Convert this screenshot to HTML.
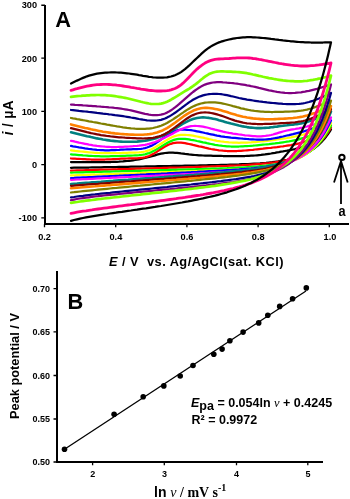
<!DOCTYPE html>
<html><head><meta charset="utf-8">
<style>
html,body{margin:0;padding:0;background:#fff;}
body{width:350px;height:499px;overflow:hidden;}
svg{display:block;filter:blur(0.35px);}
text{font-family:"Liberation Sans",sans-serif;font-weight:bold;fill:#000;}
.tk{font-size:9.2px;}
</style></head><body>
<svg width="350" height="499" viewBox="0 0 350 499">
<g fill="none" stroke-width="2.25" stroke-linejoin="round" stroke-linecap="round">
<path d="M71 162 L73 162 L75 162 L77 162.1 L79 162.1 L81 162.1 L83 162.1 L85 162.1 L87 162.1 L89 162.2 L91 162.2 L93 162.2 L95 162.2 L97 162.2 L99 162.2 L101 162.1 L103 162.1 L105 162.1 L107 162.1 L109 162 L111 162 L113 161.9 L115 161.9 L117 161.8 L119 161.7 L121 161.5 L123 161.4 L125 161.2 L127 161 L129 160.8 L131 160.6 L133 160.3 L135 160 L137 159.6 L139 159.3 L141 158.9 L143 158.4 L145 158 L147 157.5 L149 157 L151 156.4 L153 155.9 L155 155.3 L157 154.7 L159 154.2 L161 153.7 L163 153.3 L165 153 L167 152.8 L169 152.7 L171 152.6 L173 152.7 L175 152.8 L177 152.9 L179 153.1 L181 153.4 L183 153.6 L185 153.9 L187 154.1 L189 154.4 L191 154.6 L193 154.8 L195 155 L197 155.1 L199 155.3 L201 155.4 L203 155.5 L205 155.6 L207 155.6 L209 155.7 L211 155.7 L213 155.8 L215 155.8 L217 155.9 L219 155.9 L221 155.9 L223 156 L225 156 L227 156 L229 156 L231 156.1 L233 156.1 L235 156.1 L237 156.1 L239 156.1 L241 156.1 L243 156 L245 156 L247 155.9 L249 155.8 L251 155.7 L253 155.6 L255 155.5 L257 155.3 L259 155.1 L261 154.9 L263 154.6 L265 154.4 L267 154.1 L269 153.8 L271 153.5 L273 153.1 L275 152.8 L277 152.4 L279 152.1 L281 151.7 L283 151.4 L285 151 L287 150.7 L289 150.3 L291 149.9 L293 149.5 L295 149.1 L297 148.6 L299 148.1 L301 147.5 L303 146.8 L305 146 L307 145.1 L309 144.1 L311 143.1 L313 142 L315 140.7 L317 139.5 L319 138.2 L321 136.8 L323 135.4 L325 133.9 L327 132.5 L329 131 L331 129.5 L330 131.1 L329 132.6 L328 134 L327 135.4 L326 136.7 L325 138 L324 139.2 L323 140.3 L322 141.4 L321 142.4 L320 143.4 L319 144.4 L318 145.3 L317 146.1 L316 146.9 L315 147.7 L314 148.5 L313 149.2 L312 149.9 L311 150.5 L310 151.1 L309 151.7 L308 152.3 L307 152.8 L306 153.3 L305 153.8 L304 154.3 L303 154.8 L302 155.2 L301 155.6 L300 156 L299 156.4 L298 156.7 L297 157.1 L296 157.4 L295 157.7 L294 158 L293 158.3 L292 158.6 L291 158.8 L290 159.1 L287 159.8 L284 160.4 L281 160.9 L278 161.4 L275 161.8 L272 162.2 L269 162.5 L266 162.8 L263 163 L260 163.3 L257 163.5 L254 163.6 L251 163.8 L248 164 L245 164.1 L242 164.2 L239 164.4 L236 164.5 L233 164.6 L230 164.7 L227 164.8 L224 164.8 L221 164.9 L218 165 L215 165.1 L212 165.1 L209 165.2 L206 165.3 L203 165.3 L200 165.4 L197 165.5 L194 165.5 L191 165.6 L188 165.7 L185 165.7 L182 165.8 L179 165.8 L176 165.9 L173 165.9 L170 166 L167 166.1 L164 166.1 L161 166.2 L158 166.2 L155 166.3 L152 166.3 L149 166.4 L146 166.4 L143 166.5 L140 166.6 L137 166.6 L134 166.7 L131 166.7 L128 166.8 L125 166.8 L122 166.9 L119 166.9 L116 167 L113 167 L110 167.1 L107 167.2 L104 167.2 L101 167.3 L98 167.3 L95 167.4 L92 167.4 L89 167.5 L86 167.5 L83 167.6 L80 167.6 L77 167.7 L74 167.7 L71 167.8" stroke="#000000"/>
<path d="M71 158.5 L73 158.6 L75 158.7 L77 158.8 L79 158.9 L81 159 L83 159.1 L85 159.2 L87 159.3 L89 159.4 L91 159.5 L93 159.5 L95 159.5 L97 159.6 L99 159.6 L101 159.6 L103 159.5 L105 159.5 L107 159.4 L109 159.4 L111 159.3 L113 159.2 L115 159.1 L117 159 L119 158.8 L121 158.7 L123 158.6 L125 158.6 L127 158.5 L129 158.4 L131 158.4 L133 158.4 L135 158.3 L137 158.3 L139 158.1 L141 157.9 L143 157.7 L145 157.3 L147 156.7 L149 156 L151 155.1 L153 154.1 L155 152.9 L157 151.7 L159 150.3 L161 149 L163 147.7 L165 146.5 L167 145.4 L169 144.5 L171 143.8 L173 143.2 L175 142.9 L177 142.7 L179 142.6 L181 142.7 L183 142.9 L185 143.2 L187 143.6 L189 144 L191 144.4 L193 144.9 L195 145.3 L197 145.8 L199 146.3 L201 146.7 L203 147.2 L205 147.7 L207 148.1 L209 148.6 L211 149 L213 149.3 L215 149.7 L217 150 L219 150.3 L221 150.5 L223 150.7 L225 150.8 L227 151 L229 151 L231 151.1 L233 151.1 L235 151 L237 151 L239 150.9 L241 150.8 L243 150.6 L245 150.5 L247 150.3 L249 150.1 L251 150 L253 149.8 L255 149.5 L257 149.3 L259 149.1 L261 148.9 L263 148.7 L265 148.4 L267 148.2 L269 148 L271 147.8 L273 147.5 L275 147.3 L277 147.1 L279 146.8 L281 146.5 L283 146.3 L285 146 L287 145.7 L289 145.4 L291 145.1 L293 144.7 L295 144.3 L297 143.9 L299 143.4 L301 142.8 L303 142.2 L305 141.5 L307 140.7 L309 139.9 L311 139 L313 138 L315 137 L317 135.9 L319 134.8 L321 133.6 L323 132.4 L325 131.2 L327 130 L329 128.7 L331 127.5 L330 129.2 L329 130.8 L328 132.3 L327 133.8 L326 135.2 L325 136.5 L324 137.8 L323 139 L322 140.2 L321 141.3 L320 142.3 L319 143.4 L318 144.3 L317 145.2 L316 146.1 L315 147 L314 147.8 L313 148.5 L312 149.3 L311 150 L310 150.6 L309 151.3 L308 151.9 L307 152.5 L306 153 L305 153.6 L304 154.1 L303 154.5 L302 155 L301 155.5 L300 155.9 L299 156.3 L298 156.7 L297 157.1 L296 157.4 L295 157.8 L294 158.1 L293 158.4 L292 158.7 L291 159 L290 159.3 L287 160 L284 160.7 L281 161.3 L278 161.8 L275 162.3 L272 162.7 L269 163.1 L266 163.4 L263 163.7 L260 164 L257 164.2 L254 164.4 L251 164.6 L248 164.8 L245 165 L242 165.2 L239 165.3 L236 165.5 L233 165.6 L230 165.7 L227 165.9 L224 166 L221 166.1 L218 166.2 L215 166.3 L212 166.4 L209 166.5 L206 166.6 L203 166.7 L200 166.8 L197 166.9 L194 167 L191 167.1 L188 167.2 L185 167.3 L182 167.4 L179 167.5 L176 167.6 L173 167.7 L170 167.7 L167 167.8 L164 167.9 L161 168 L158 168.1 L155 168.2 L152 168.3 L149 168.4 L146 168.4 L143 168.5 L140 168.6 L137 168.7 L134 168.8 L131 168.9 L128 169 L125 169 L122 169.1 L119 169.2 L116 169.3 L113 169.4 L110 169.5 L107 169.6 L104 169.7 L101 169.7 L98 169.8 L95 169.9 L92 170 L89 170.1 L86 170.2 L83 170.3 L80 170.3 L77 170.4 L74 170.5 L71 170.6" stroke="#ff0000"/>
<path d="M71 154.4 L73 154.6 L75 154.7 L77 154.9 L79 155.1 L81 155.2 L83 155.4 L85 155.5 L87 155.6 L89 155.8 L91 155.9 L93 156 L95 156.1 L97 156.1 L99 156.2 L101 156.3 L103 156.3 L105 156.3 L107 156.3 L109 156.3 L111 156.2 L113 156.2 L115 156.1 L117 156.1 L119 156 L121 155.9 L123 155.8 L125 155.8 L127 155.7 L129 155.6 L131 155.6 L133 155.5 L135 155.4 L137 155.3 L139 155.2 L141 155 L143 154.7 L145 154.3 L147 153.7 L149 153.1 L151 152.3 L153 151.3 L155 150.3 L157 149.1 L159 147.9 L161 146.7 L163 145.4 L165 144.2 L167 143.1 L169 142 L171 141.1 L173 140.2 L175 139.6 L177 139.2 L179 138.9 L181 138.8 L183 138.8 L185 138.9 L187 139.1 L189 139.4 L191 139.8 L193 140.1 L195 140.5 L197 141 L199 141.4 L201 141.8 L203 142.3 L205 142.7 L207 143.2 L209 143.6 L211 144 L213 144.4 L215 144.8 L217 145.1 L219 145.5 L221 145.7 L223 146 L225 146.1 L227 146.3 L229 146.4 L231 146.5 L233 146.5 L235 146.5 L237 146.5 L239 146.5 L241 146.4 L243 146.3 L245 146.2 L247 146.1 L249 146 L251 145.8 L253 145.7 L255 145.5 L257 145.3 L259 145.1 L261 144.9 L263 144.7 L265 144.5 L267 144.3 L269 144.1 L271 143.8 L273 143.6 L275 143.4 L277 143.1 L279 142.9 L281 142.6 L283 142.3 L285 142 L287 141.7 L289 141.4 L291 141 L293 140.6 L295 140.2 L297 139.8 L299 139.3 L301 138.7 L303 138.1 L305 137.5 L307 136.8 L309 136.1 L311 135.2 L313 134.4 L315 133.5 L317 132.6 L319 131.6 L321 130.7 L323 129.7 L325 128.6 L327 127.6 L329 126.5 L331 125.5 L330 127.4 L329 129.2 L328 130.9 L327 132.6 L326 134.1 L325 135.6 L324 137.1 L323 138.4 L322 139.7 L321 141 L320 142.2 L319 143.3 L318 144.4 L317 145.4 L316 146.4 L315 147.4 L314 148.3 L313 149.1 L312 149.9 L311 150.7 L310 151.5 L309 152.2 L308 152.9 L307 153.5 L306 154.1 L305 154.7 L304 155.3 L303 155.8 L302 156.4 L301 156.9 L300 157.3 L299 157.8 L298 158.2 L297 158.6 L296 159 L295 159.4 L294 159.8 L293 160.1 L292 160.4 L291 160.8 L290 161.1 L287 161.9 L284 162.6 L281 163.3 L278 163.9 L275 164.4 L272 164.8 L269 165.2 L266 165.6 L263 165.9 L260 166.2 L257 166.5 L254 166.7 L251 166.9 L248 167.1 L245 167.3 L242 167.5 L239 167.6 L236 167.8 L233 167.9 L230 168 L227 168.2 L224 168.3 L221 168.4 L218 168.5 L215 168.6 L212 168.7 L209 168.8 L206 168.9 L203 169 L200 169.1 L197 169.2 L194 169.3 L191 169.4 L188 169.4 L185 169.5 L182 169.6 L179 169.7 L176 169.8 L173 169.9 L170 169.9 L167 170 L164 170.1 L161 170.2 L158 170.3 L155 170.4 L152 170.4 L149 170.5 L146 170.6 L143 170.7 L140 170.8 L137 170.8 L134 170.9 L131 171 L128 171.1 L125 171.2 L122 171.2 L119 171.3 L116 171.4 L113 171.5 L110 171.6 L107 171.6 L104 171.7 L101 171.8 L98 171.9 L95 172 L92 172 L89 172.1 L86 172.2 L83 172.3 L80 172.4 L77 172.4 L74 172.5 L71 172.6" stroke="#00ff00"/>
<path d="M71 150.4 L73 150.6 L75 150.9 L77 151.1 L79 151.3 L81 151.5 L83 151.7 L85 151.9 L87 152.1 L89 152.3 L91 152.5 L93 152.6 L95 152.8 L97 152.9 L99 153 L101 153.1 L103 153.2 L105 153.2 L107 153.2 L109 153.2 L111 153.2 L113 153.2 L115 153.1 L117 153.1 L119 153 L121 153 L123 152.9 L125 152.8 L127 152.8 L129 152.7 L131 152.7 L133 152.6 L135 152.6 L137 152.5 L139 152.4 L141 152.2 L143 151.9 L145 151.5 L147 150.9 L149 150.3 L151 149.5 L153 148.5 L155 147.4 L157 146.2 L159 145 L161 143.7 L163 142.4 L165 141.1 L167 139.9 L169 138.8 L171 137.7 L173 136.8 L175 136.1 L177 135.5 L179 135.2 L181 134.9 L183 134.8 L185 134.9 L187 135 L189 135.2 L191 135.4 L193 135.7 L195 136.1 L197 136.5 L199 136.9 L201 137.3 L203 137.7 L205 138.2 L207 138.6 L209 139.1 L211 139.5 L213 140 L215 140.4 L217 140.8 L219 141.1 L221 141.5 L223 141.7 L225 142 L227 142.2 L229 142.4 L231 142.5 L233 142.6 L235 142.7 L237 142.7 L239 142.8 L241 142.7 L243 142.7 L245 142.7 L247 142.6 L249 142.5 L251 142.4 L253 142.2 L255 142.1 L257 141.9 L259 141.7 L261 141.5 L263 141.3 L265 141.1 L267 140.8 L269 140.6 L271 140.3 L273 140.1 L275 139.8 L277 139.5 L279 139.2 L281 138.9 L283 138.6 L285 138.3 L287 138 L289 137.6 L291 137.3 L293 136.9 L295 136.5 L297 136.1 L299 135.6 L301 135.1 L303 134.6 L305 134 L307 133.4 L309 132.7 L311 131.9 L313 131.2 L315 130.3 L317 129.5 L319 128.6 L321 127.7 L323 126.8 L325 125.9 L327 124.9 L329 124 L331 123 L330 125.1 L329 127 L328 128.9 L327 130.7 L326 132.4 L325 134 L324 135.6 L323 137.1 L322 138.5 L321 139.8 L320 141.1 L319 142.4 L318 143.5 L317 144.7 L316 145.7 L315 146.8 L314 147.8 L313 148.7 L312 149.6 L311 150.4 L310 151.2 L309 152 L308 152.8 L307 153.5 L306 154.2 L305 154.8 L304 155.4 L303 156 L302 156.6 L301 157.1 L300 157.7 L299 158.2 L298 158.6 L297 159.1 L296 159.5 L295 159.9 L294 160.3 L293 160.7 L292 161.1 L291 161.4 L290 161.8 L287 162.7 L284 163.5 L281 164.2 L278 164.9 L275 165.4 L272 165.9 L269 166.4 L266 166.8 L263 167.2 L260 167.5 L257 167.8 L254 168.1 L251 168.3 L248 168.5 L245 168.8 L242 169 L239 169.1 L236 169.3 L233 169.5 L230 169.6 L227 169.8 L224 169.9 L221 170.1 L218 170.2 L215 170.3 L212 170.5 L209 170.6 L206 170.7 L203 170.8 L200 170.9 L197 171 L194 171.2 L191 171.3 L188 171.4 L185 171.5 L182 171.6 L179 171.7 L176 171.8 L173 171.9 L170 172 L167 172.1 L164 172.2 L161 172.3 L158 172.4 L155 172.5 L152 172.6 L149 172.7 L146 172.8 L143 172.9 L140 173 L137 173.2 L134 173.3 L131 173.4 L128 173.5 L125 173.6 L122 173.7 L119 173.8 L116 173.9 L113 174 L110 174.1 L107 174.2 L104 174.3 L101 174.4 L98 174.5 L95 174.6 L92 174.7 L89 174.8 L86 174.9 L83 175 L80 175.1 L77 175.2 L74 175.3 L71 175.4" stroke="#ffff00"/>
<path d="M71 145.9 L73 146.3 L75 146.6 L77 147 L79 147.4 L81 147.7 L83 148 L85 148.4 L87 148.7 L89 149 L91 149.2 L93 149.5 L95 149.7 L97 149.9 L99 150 L101 150.2 L103 150.2 L105 150.3 L107 150.3 L109 150.3 L111 150.2 L113 150.2 L115 150.1 L117 150 L119 149.9 L121 149.7 L123 149.6 L125 149.5 L127 149.4 L129 149.3 L131 149.3 L133 149.2 L135 149.2 L137 149.1 L139 149 L141 148.8 L143 148.5 L145 148.1 L147 147.5 L149 146.8 L151 145.9 L153 144.9 L155 143.7 L157 142.4 L159 141 L161 139.5 L163 138.1 L165 136.7 L167 135.3 L169 134 L171 132.8 L173 131.8 L175 131 L177 130.4 L179 130 L181 129.7 L183 129.6 L185 129.6 L187 129.8 L189 130 L191 130.2 L193 130.5 L195 130.9 L197 131.3 L199 131.7 L201 132.1 L203 132.5 L205 133 L207 133.4 L209 133.9 L211 134.3 L213 134.7 L215 135.2 L217 135.6 L219 135.9 L221 136.3 L223 136.6 L225 136.9 L227 137.1 L229 137.3 L231 137.6 L233 137.8 L235 137.9 L237 138.1 L239 138.3 L241 138.5 L243 138.7 L245 138.8 L247 139 L249 139.2 L251 139.3 L253 139.4 L255 139.5 L257 139.6 L259 139.6 L261 139.6 L263 139.6 L265 139.5 L267 139.3 L269 139.1 L271 138.9 L273 138.5 L275 138.2 L277 137.8 L279 137.4 L281 136.9 L283 136.5 L285 136 L287 135.5 L289 135.1 L291 134.6 L293 134.2 L295 133.7 L297 133.2 L299 132.7 L301 132.2 L303 131.6 L305 131 L307 130.4 L309 129.7 L311 128.9 L313 128.2 L315 127.4 L317 126.6 L319 125.8 L321 124.9 L323 124.1 L325 123.2 L327 122.3 L329 121.4 L331 120.5 L330 122.6 L329 124.7 L328 126.6 L327 128.5 L326 130.3 L325 132 L324 133.6 L323 135.1 L322 136.6 L321 138 L320 139.4 L319 140.7 L318 141.9 L317 143.1 L316 144.2 L315 145.3 L314 146.3 L313 147.3 L312 148.2 L311 149.1 L310 150 L309 150.8 L308 151.6 L307 152.3 L306 153 L305 153.7 L304 154.4 L303 155 L302 155.6 L301 156.2 L300 156.7 L299 157.2 L298 157.8 L297 158.2 L296 158.7 L295 159.1 L294 159.6 L293 160 L292 160.4 L291 160.7 L290 161.1 L287 162.1 L284 163 L281 163.8 L278 164.5 L275 165.1 L272 165.6 L269 166.1 L266 166.6 L263 167 L260 167.4 L257 167.7 L254 168.1 L251 168.4 L248 168.6 L245 168.9 L242 169.1 L239 169.4 L236 169.6 L233 169.8 L230 170 L227 170.2 L224 170.4 L221 170.6 L218 170.7 L215 170.9 L212 171.1 L209 171.2 L206 171.4 L203 171.6 L200 171.7 L197 171.9 L194 172 L191 172.2 L188 172.3 L185 172.5 L182 172.6 L179 172.8 L176 172.9 L173 173.1 L170 173.2 L167 173.4 L164 173.5 L161 173.7 L158 173.8 L155 174 L152 174.1 L149 174.2 L146 174.4 L143 174.5 L140 174.7 L137 174.8 L134 175 L131 175.1 L128 175.3 L125 175.4 L122 175.5 L119 175.7 L116 175.8 L113 176 L110 176.1 L107 176.3 L104 176.4 L101 176.6 L98 176.7 L95 176.8 L92 177 L89 177.1 L86 177.3 L83 177.4 L80 177.6 L77 177.7 L74 177.9 L71 178" stroke="#0000ff"/>
<path d="M71 140.8 L73 141.2 L75 141.7 L77 142.1 L79 142.6 L81 143 L83 143.4 L85 143.8 L87 144.2 L89 144.6 L91 144.9 L93 145.3 L95 145.6 L97 145.9 L99 146.1 L101 146.3 L103 146.5 L105 146.7 L107 146.8 L109 146.9 L111 147 L113 147 L115 147 L117 147 L119 146.9 L121 146.9 L123 146.8 L125 146.7 L127 146.6 L129 146.5 L131 146.3 L133 146.2 L135 146 L137 145.9 L139 145.7 L141 145.4 L143 145.1 L145 144.8 L147 144.4 L149 143.9 L151 143.3 L153 142.7 L155 142 L157 141.2 L159 140.4 L161 139.5 L163 138.5 L165 137.6 L167 136.6 L169 135.5 L171 134.5 L173 133.4 L175 132.3 L177 131.3 L179 130.3 L181 129.4 L183 128.5 L185 127.8 L187 127.1 L189 126.6 L191 126.2 L193 126 L195 125.9 L197 126 L199 126.1 L201 126.3 L203 126.7 L205 127.1 L207 127.5 L209 128 L211 128.6 L213 129.1 L215 129.7 L217 130.2 L219 130.7 L221 131.2 L223 131.7 L225 132.1 L227 132.5 L229 132.9 L231 133.2 L233 133.6 L235 133.9 L237 134.2 L239 134.5 L241 134.7 L243 135 L245 135.3 L247 135.5 L249 135.7 L251 135.9 L253 136.1 L255 136.2 L257 136.3 L259 136.3 L261 136.3 L263 136.1 L265 136 L267 135.7 L269 135.4 L271 135 L273 134.5 L275 133.9 L277 133.3 L279 132.7 L281 132.1 L283 131.5 L285 131 L287 130.5 L289 130.1 L291 129.7 L293 129.3 L295 129 L297 128.6 L299 128.3 L301 127.9 L303 127.5 L305 127 L307 126.5 L309 125.9 L311 125.3 L313 124.7 L315 124 L317 123.2 L319 122.5 L321 121.7 L323 120.9 L325 120 L327 119.2 L329 118.4 L331 117.5 L330 119.9 L329 122.1 L328 124.2 L327 126.3 L326 128.2 L325 130.1 L324 131.9 L323 133.6 L322 135.2 L321 136.8 L320 138.2 L319 139.7 L318 141 L317 142.3 L316 143.5 L315 144.7 L314 145.8 L313 146.9 L312 147.9 L311 148.9 L310 149.9 L309 150.8 L308 151.6 L307 152.4 L306 153.2 L305 154 L304 154.7 L303 155.4 L302 156 L301 156.7 L300 157.3 L299 157.8 L298 158.4 L297 158.9 L296 159.4 L295 159.9 L294 160.4 L293 160.8 L292 161.2 L291 161.6 L290 162 L287 163.1 L284 164.1 L281 164.9 L278 165.7 L275 166.4 L272 167 L269 167.5 L266 168 L263 168.4 L260 168.9 L257 169.2 L254 169.6 L251 169.9 L248 170.2 L245 170.4 L242 170.7 L239 170.9 L236 171.2 L233 171.4 L230 171.6 L227 171.8 L224 172 L221 172.2 L218 172.4 L215 172.5 L212 172.7 L209 172.9 L206 173.1 L203 173.2 L200 173.4 L197 173.5 L194 173.7 L191 173.9 L188 174 L185 174.2 L182 174.3 L179 174.5 L176 174.6 L173 174.8 L170 174.9 L167 175.1 L164 175.2 L161 175.4 L158 175.5 L155 175.7 L152 175.8 L149 176 L146 176.1 L143 176.3 L140 176.4 L137 176.6 L134 176.7 L131 176.9 L128 177 L125 177.2 L122 177.3 L119 177.4 L116 177.6 L113 177.7 L110 177.9 L107 178 L104 178.2 L101 178.3 L98 178.5 L95 178.6 L92 178.8 L89 178.9 L86 179.1 L83 179.2 L80 179.4 L77 179.5 L74 179.7 L71 179.8" stroke="#ff00ff"/>
<path d="M71 132.2 L73 132.7 L75 133.2 L77 133.7 L79 134.2 L81 134.7 L83 135.2 L85 135.7 L87 136.2 L89 136.6 L91 137.1 L93 137.5 L95 137.9 L97 138.4 L99 138.7 L101 139.1 L103 139.5 L105 139.8 L107 140.1 L109 140.4 L111 140.7 L113 140.9 L115 141.1 L117 141.3 L119 141.5 L121 141.6 L123 141.7 L125 141.8 L127 141.8 L129 141.8 L131 141.8 L133 141.8 L135 141.7 L137 141.6 L139 141.4 L141 141.3 L143 141 L145 140.8 L147 140.4 L149 140 L151 139.6 L153 139.1 L155 138.5 L157 137.9 L159 137.1 L161 136.3 L163 135.5 L165 134.5 L167 133.4 L169 132.3 L171 131.1 L173 129.9 L175 128.7 L177 127.4 L179 126.1 L181 124.9 L183 123.7 L185 122.6 L187 121.6 L189 120.6 L191 119.7 L193 119 L195 118.4 L197 118 L199 117.7 L201 117.5 L203 117.4 L205 117.5 L207 117.7 L209 117.9 L211 118.3 L213 118.7 L215 119.1 L217 119.6 L219 120.2 L221 120.7 L223 121.3 L225 121.9 L227 122.5 L229 123 L231 123.6 L233 124.1 L235 124.6 L237 125.1 L239 125.6 L241 126 L243 126.4 L245 126.7 L247 127.1 L249 127.4 L251 127.6 L253 127.8 L255 128 L257 128.1 L259 128.1 L261 128.1 L263 128 L265 127.9 L267 127.8 L269 127.6 L271 127.3 L273 127.1 L275 126.8 L277 126.6 L279 126.3 L281 126 L283 125.8 L285 125.5 L287 125.3 L289 125 L291 124.8 L293 124.6 L295 124.3 L297 124.1 L299 123.8 L301 123.4 L303 123 L305 122.5 L307 121.9 L309 121.3 L311 120.6 L313 119.9 L315 119.1 L317 118.2 L319 117.4 L321 116.4 L323 115.5 L325 114.5 L327 113.5 L329 112.5 L331 111.5 L330 114 L329 116.5 L328 118.8 L327 121 L326 123.1 L325 125.2 L324 127.1 L323 128.9 L322 130.7 L321 132.4 L320 134 L319 135.5 L318 137 L317 138.4 L316 139.7 L315 141 L314 142.2 L313 143.4 L312 144.5 L311 145.6 L310 146.6 L309 147.6 L308 148.6 L307 149.5 L306 150.3 L305 151.2 L304 152 L303 152.7 L302 153.4 L301 154.1 L300 154.8 L299 155.4 L298 156.1 L297 156.6 L296 157.2 L295 157.7 L294 158.3 L293 158.8 L292 159.2 L291 159.7 L290 160.1 L287 161.4 L284 162.5 L281 163.4 L278 164.3 L275 165.1 L272 165.8 L269 166.5 L266 167.1 L263 167.6 L260 168.1 L257 168.6 L254 169 L251 169.4 L248 169.8 L245 170.2 L242 170.5 L239 170.8 L236 171.1 L233 171.4 L230 171.7 L227 172 L224 172.3 L221 172.5 L218 172.8 L215 173.1 L212 173.3 L209 173.6 L206 173.8 L203 174 L200 174.3 L197 174.5 L194 174.8 L191 175 L188 175.2 L185 175.5 L182 175.7 L179 175.9 L176 176.1 L173 176.4 L170 176.6 L167 176.8 L164 177.1 L161 177.3 L158 177.5 L155 177.7 L152 178 L149 178.2 L146 178.4 L143 178.6 L140 178.9 L137 179.1 L134 179.3 L131 179.5 L128 179.8 L125 180 L122 180.2 L119 180.4 L116 180.6 L113 180.9 L110 181.1 L107 181.3 L104 181.5 L101 181.8 L98 182 L95 182.2 L92 182.4 L89 182.7 L86 182.9 L83 183.1 L80 183.3 L77 183.6 L74 183.8 L71 184" stroke="#008080" stroke-width="2.6"/>
<path d="M71 128.2 L73 128.7 L75 129.2 L77 129.7 L79 130.2 L81 130.7 L83 131.2 L85 131.7 L87 132.2 L89 132.6 L91 133.1 L93 133.5 L95 133.9 L97 134.3 L99 134.7 L101 135.1 L103 135.4 L105 135.7 L107 136 L109 136.2 L111 136.5 L113 136.7 L115 136.9 L117 137.1 L119 137.3 L121 137.4 L123 137.5 L125 137.7 L127 137.8 L129 137.9 L131 138 L133 138.1 L135 138.2 L137 138.3 L139 138.4 L141 138.4 L143 138.5 L145 138.4 L147 138.4 L149 138.2 L151 138.1 L153 137.8 L155 137.4 L157 136.9 L159 136.4 L161 135.7 L163 134.9 L165 133.9 L167 132.8 L169 131.6 L171 130.2 L173 128.8 L175 127.4 L177 125.8 L179 124.3 L181 122.8 L183 121.3 L185 119.9 L187 118.5 L189 117.2 L191 116.1 L193 115.1 L195 114.2 L197 113.5 L199 113 L201 112.7 L203 112.5 L205 112.4 L207 112.5 L209 112.7 L211 113 L213 113.3 L215 113.8 L217 114.4 L219 115 L221 115.6 L223 116.3 L225 117 L227 117.7 L229 118.5 L231 119.2 L233 119.9 L235 120.6 L237 121.2 L239 121.7 L241 122.2 L243 122.7 L245 123 L247 123.3 L249 123.5 L251 123.7 L253 123.8 L255 123.9 L257 124 L259 124 L261 124 L263 124 L265 123.9 L267 123.9 L269 123.8 L271 123.8 L273 123.7 L275 123.6 L277 123.5 L279 123.3 L281 123.2 L283 123.1 L285 123 L287 122.9 L289 122.8 L291 122.6 L293 122.5 L295 122.3 L297 122 L299 121.7 L301 121.4 L303 121 L305 120.5 L307 119.9 L309 119.3 L311 118.6 L313 117.8 L315 117 L317 116.1 L319 115.2 L321 114.2 L323 113.2 L325 112.2 L327 111.1 L329 110.1 L331 109 L330 111.7 L329 114.3 L328 116.8 L327 119.2 L326 121.5 L325 123.7 L324 125.7 L323 127.7 L322 129.6 L321 131.4 L320 133.1 L319 134.8 L318 136.4 L317 137.9 L316 139.3 L315 140.7 L314 142 L313 143.3 L312 144.5 L311 145.6 L310 146.7 L309 147.8 L308 148.8 L307 149.8 L306 150.7 L305 151.6 L304 152.4 L303 153.2 L302 154 L301 154.7 L300 155.4 L299 156.1 L298 156.8 L297 157.4 L296 158 L295 158.6 L294 159.1 L293 159.7 L292 160.2 L291 160.7 L290 161.2 L287 162.5 L284 163.6 L281 164.7 L278 165.6 L275 166.4 L272 167.2 L269 167.9 L266 168.5 L263 169.1 L260 169.6 L257 170.1 L254 170.5 L251 170.9 L248 171.3 L245 171.7 L242 172.1 L239 172.4 L236 172.7 L233 173 L230 173.3 L227 173.6 L224 173.9 L221 174.2 L218 174.4 L215 174.7 L212 175 L209 175.2 L206 175.5 L203 175.7 L200 175.9 L197 176.2 L194 176.4 L191 176.7 L188 176.9 L185 177.1 L182 177.4 L179 177.6 L176 177.8 L173 178.1 L170 178.3 L167 178.5 L164 178.8 L161 179 L158 179.2 L155 179.4 L152 179.7 L149 179.9 L146 180.1 L143 180.4 L140 180.6 L137 180.8 L134 181 L131 181.3 L128 181.5 L125 181.7 L122 181.9 L119 182.2 L116 182.4 L113 182.6 L110 182.9 L107 183.1 L104 183.3 L101 183.5 L98 183.8 L95 184 L92 184.2 L89 184.4 L86 184.7 L83 184.9 L80 185.1 L77 185.3 L74 185.6 L71 185.8" stroke="#800000"/>
<path d="M71 124.4 L73 124.9 L75 125.4 L77 125.9 L79 126.4 L81 126.9 L83 127.4 L85 127.9 L87 128.3 L89 128.8 L91 129.3 L93 129.7 L95 130.1 L97 130.5 L99 130.9 L101 131.3 L103 131.7 L105 132 L107 132.3 L109 132.6 L111 132.9 L113 133.1 L115 133.4 L117 133.6 L119 133.8 L121 134 L123 134.1 L125 134.3 L127 134.4 L129 134.5 L131 134.6 L133 134.6 L135 134.7 L137 134.7 L139 134.7 L141 134.7 L143 134.7 L145 134.5 L147 134.4 L149 134.2 L151 133.9 L153 133.5 L155 133 L157 132.5 L159 131.8 L161 131.1 L163 130.2 L165 129.2 L167 128.1 L169 126.9 L171 125.5 L173 124.1 L175 122.7 L177 121.2 L179 119.8 L181 118.3 L183 116.8 L185 115.4 L187 114.1 L189 112.9 L191 111.8 L193 110.8 L195 109.9 L197 109.2 L199 108.7 L201 108.3 L203 108 L205 107.9 L207 107.9 L209 108 L211 108.2 L213 108.5 L215 108.9 L217 109.3 L219 109.8 L221 110.3 L223 110.9 L225 111.5 L227 112.1 L229 112.8 L231 113.4 L233 114 L235 114.6 L237 115.2 L239 115.7 L241 116.2 L243 116.7 L245 117.1 L247 117.5 L249 117.8 L251 118.1 L253 118.4 L255 118.6 L257 118.8 L259 118.9 L261 119.1 L263 119.1 L265 119.2 L267 119.2 L269 119.2 L271 119.2 L273 119.2 L275 119.1 L277 119 L279 118.9 L281 118.8 L283 118.7 L285 118.6 L287 118.5 L289 118.3 L291 118.2 L293 118 L295 117.7 L297 117.5 L299 117.2 L301 116.9 L303 116.5 L305 116 L307 115.5 L309 114.9 L311 114.3 L313 113.6 L315 112.9 L317 112.1 L319 111.3 L321 110.4 L323 109.6 L325 108.7 L327 107.8 L329 106.9 L331 106 L330 108.9 L329 111.7 L328 114.4 L327 117 L326 119.4 L325 121.8 L324 124 L323 126.1 L322 128.1 L321 130.1 L320 131.9 L319 133.7 L318 135.4 L317 137 L316 138.6 L315 140 L314 141.5 L313 142.8 L312 144.1 L311 145.3 L310 146.5 L309 147.7 L308 148.7 L307 149.8 L306 150.8 L305 151.7 L304 152.6 L303 153.5 L302 154.3 L301 155.1 L300 155.9 L299 156.6 L298 157.3 L297 158 L296 158.6 L295 159.3 L294 159.9 L293 160.4 L292 161 L291 161.5 L290 162 L287 163.4 L284 164.6 L281 165.8 L278 166.8 L275 167.7 L272 168.5 L269 169.2 L266 169.9 L263 170.5 L260 171 L257 171.5 L254 172 L251 172.5 L248 172.9 L245 173.3 L242 173.7 L239 174 L236 174.4 L233 174.7 L230 175 L227 175.3 L224 175.6 L221 175.9 L218 176.2 L215 176.5 L212 176.7 L209 177 L206 177.3 L203 177.5 L200 177.8 L197 178 L194 178.3 L191 178.5 L188 178.8 L185 179 L182 179.3 L179 179.5 L176 179.8 L173 180 L170 180.3 L167 180.5 L164 180.8 L161 181 L158 181.2 L155 181.5 L152 181.7 L149 182 L146 182.2 L143 182.4 L140 182.7 L137 182.9 L134 183.2 L131 183.4 L128 183.6 L125 183.9 L122 184.1 L119 184.4 L116 184.6 L113 184.8 L110 185.1 L107 185.3 L104 185.6 L101 185.8 L98 186 L95 186.3 L92 186.5 L89 186.8 L86 187 L83 187.2 L80 187.5 L77 187.7 L74 188 L71 188.2" stroke="#ff8000" stroke-width="2.6"/>
<path d="M71 118 L73 118.4 L75 118.7 L77 119.1 L79 119.4 L81 119.8 L83 120.2 L85 120.5 L87 120.9 L89 121.3 L91 121.6 L93 122 L95 122.3 L97 122.7 L99 123.1 L101 123.5 L103 123.8 L105 124.2 L107 124.6 L109 124.9 L111 125.3 L113 125.7 L115 126 L117 126.4 L119 126.7 L121 127 L123 127.4 L125 127.6 L127 127.9 L129 128.1 L131 128.4 L133 128.5 L135 128.7 L137 128.8 L139 128.9 L141 128.9 L143 128.9 L145 128.9 L147 128.7 L149 128.6 L151 128.3 L153 128 L155 127.5 L157 127 L159 126.4 L161 125.7 L163 124.9 L165 124 L167 123 L169 121.8 L171 120.6 L173 119.4 L175 118 L177 116.7 L179 115.3 L181 113.9 L183 112.6 L185 111.2 L187 109.9 L189 108.7 L191 107.6 L193 106.5 L195 105.6 L197 104.8 L199 104.1 L201 103.5 L203 103.1 L205 102.7 L207 102.5 L209 102.4 L211 102.3 L213 102.3 L215 102.4 L217 102.6 L219 102.9 L221 103.2 L223 103.6 L225 104 L227 104.5 L229 105 L231 105.5 L233 106.1 L235 106.6 L237 107.2 L239 107.7 L241 108.3 L243 108.7 L245 109.2 L247 109.6 L249 110 L251 110.4 L253 110.7 L255 111 L257 111.2 L259 111.4 L261 111.6 L263 111.7 L265 111.8 L267 111.9 L269 111.9 L271 112 L273 112 L275 111.9 L277 111.9 L279 111.9 L281 111.8 L283 111.8 L285 111.7 L287 111.6 L289 111.6 L291 111.5 L293 111.4 L295 111.3 L297 111.1 L299 110.9 L301 110.7 L303 110.4 L305 110 L307 109.6 L309 109 L311 108.5 L313 107.8 L315 107.2 L317 106.4 L319 105.7 L321 104.9 L323 104.1 L325 103.2 L327 102.4 L329 101.5 L331 100.6 L330 103.8 L329 106.9 L328 109.8 L327 112.6 L326 115.3 L325 117.8 L324 120.2 L323 122.6 L322 124.8 L321 126.9 L320 129 L319 130.9 L318 132.7 L317 134.5 L316 136.2 L315 137.8 L314 139.4 L313 140.9 L312 142.3 L311 143.6 L310 144.9 L309 146.2 L308 147.4 L307 148.5 L306 149.6 L305 150.6 L304 151.6 L303 152.6 L302 153.5 L301 154.4 L300 155.2 L299 156 L298 156.8 L297 157.5 L296 158.2 L295 158.9 L294 159.6 L293 160.2 L292 160.8 L291 161.4 L290 162 L287 163.5 L284 164.9 L281 166.1 L278 167.2 L275 168.2 L272 169.1 L269 170 L266 170.7 L263 171.4 L260 172 L257 172.6 L254 173.2 L251 173.7 L248 174.2 L245 174.6 L242 175 L239 175.5 L236 175.8 L233 176.2 L230 176.6 L227 177 L224 177.3 L221 177.6 L218 178 L215 178.3 L212 178.6 L209 178.9 L206 179.2 L203 179.5 L200 179.9 L197 180.2 L194 180.5 L191 180.8 L188 181 L185 181.3 L182 181.6 L179 181.9 L176 182.2 L173 182.5 L170 182.8 L167 183.1 L164 183.4 L161 183.7 L158 183.9 L155 184.2 L152 184.5 L149 184.8 L146 185.1 L143 185.4 L140 185.7 L137 185.9 L134 186.2 L131 186.5 L128 186.8 L125 187.1 L122 187.4 L119 187.7 L116 188 L113 188.2 L110 188.5 L107 188.8 L104 189.1 L101 189.4 L98 189.7 L95 190 L92 190.3 L89 190.6 L86 190.9 L83 191.2 L80 191.5 L77 191.8 L74 192.2 L71 192.5" stroke="#808000"/>
<path d="M71 110 L73 110.2 L75 110.4 L77 110.6 L79 110.9 L81 111.1 L83 111.3 L85 111.5 L87 111.7 L89 112 L91 112.2 L93 112.4 L95 112.6 L97 112.9 L99 113.1 L101 113.3 L103 113.6 L105 113.8 L107 114 L109 114.3 L111 114.5 L113 114.8 L115 115.1 L117 115.3 L119 115.6 L121 115.9 L123 116.2 L125 116.5 L127 116.8 L129 117.1 L131 117.5 L133 117.8 L135 118.2 L137 118.6 L139 119 L141 119.3 L143 119.7 L145 120 L147 120.3 L149 120.5 L151 120.6 L153 120.7 L155 120.6 L157 120.5 L159 120.2 L161 119.8 L163 119.2 L165 118.5 L167 117.6 L169 116.6 L171 115.4 L173 114.1 L175 112.8 L177 111.3 L179 109.9 L181 108.4 L183 106.8 L185 105.3 L187 103.9 L189 102.4 L191 101.1 L193 99.8 L195 98.7 L197 97.7 L199 96.8 L201 96.1 L203 95.4 L205 94.9 L207 94.5 L209 94.2 L211 94 L213 93.9 L215 93.8 L217 93.9 L219 94 L221 94.2 L223 94.5 L225 94.8 L227 95.2 L229 95.6 L231 96.1 L233 96.5 L235 97 L237 97.5 L239 98 L241 98.4 L243 98.8 L245 99.2 L247 99.6 L249 99.9 L251 100.2 L253 100.5 L255 100.8 L257 101.1 L259 101.4 L261 101.6 L263 101.9 L265 102.1 L267 102.4 L269 102.6 L271 102.8 L273 103 L275 103.2 L277 103.4 L279 103.6 L281 103.7 L283 103.9 L285 104 L287 104.1 L289 104.2 L291 104.2 L293 104.2 L295 104.1 L297 104 L299 103.9 L301 103.7 L303 103.4 L305 103 L307 102.5 L309 102 L311 101.4 L313 100.8 L315 100 L317 99.3 L319 98.5 L321 97.6 L323 96.7 L325 95.8 L327 94.9 L329 93.9 L331 93 L330 96.5 L329 99.9 L328 103.2 L327 106.3 L326 109.3 L325 112.1 L324 114.8 L323 117.5 L322 120 L321 122.3 L320 124.6 L319 126.8 L318 128.9 L317 130.9 L316 132.9 L315 134.7 L314 136.5 L313 138.2 L312 139.8 L311 141.3 L310 142.8 L309 144.3 L308 145.6 L307 146.9 L306 148.2 L305 149.4 L304 150.6 L303 151.7 L302 152.7 L301 153.8 L300 154.7 L299 155.7 L298 156.6 L297 157.5 L296 158.3 L295 159.1 L294 159.9 L293 160.6 L292 161.3 L291 162 L290 162.7 L287 164.5 L284 166.1 L281 167.6 L278 168.9 L275 170.1 L272 171.2 L269 172.2 L266 173.1 L263 173.9 L260 174.6 L257 175.3 L254 176 L251 176.6 L248 177.1 L245 177.6 L242 178.1 L239 178.6 L236 179.1 L233 179.5 L230 179.9 L227 180.3 L224 180.7 L221 181.1 L218 181.4 L215 181.8 L212 182.2 L209 182.5 L206 182.8 L203 183.2 L200 183.5 L197 183.8 L194 184.1 L191 184.5 L188 184.8 L185 185.1 L182 185.4 L179 185.7 L176 186 L173 186.3 L170 186.6 L167 187 L164 187.3 L161 187.6 L158 187.9 L155 188.2 L152 188.5 L149 188.8 L146 189.1 L143 189.4 L140 189.7 L137 190 L134 190.3 L131 190.6 L128 190.9 L125 191.2 L122 191.5 L119 191.8 L116 192.1 L113 192.4 L110 192.8 L107 193.1 L104 193.4 L101 193.7 L98 194 L95 194.4 L92 194.7 L89 195 L86 195.4 L83 195.8 L80 196.1 L77 196.5 L74 197 L71 197.4" stroke="#000080"/>
<path d="M71 104.6 L73 104.7 L75 104.9 L77 105 L79 105.1 L81 105.2 L83 105.4 L85 105.5 L87 105.6 L89 105.8 L91 105.9 L93 106.1 L95 106.2 L97 106.4 L99 106.5 L101 106.7 L103 106.8 L105 107 L107 107.2 L109 107.4 L111 107.5 L113 107.7 L115 108 L117 108.2 L119 108.4 L121 108.7 L123 109 L125 109.3 L127 109.6 L129 110 L131 110.4 L133 110.8 L135 111.3 L137 111.8 L139 112.3 L141 112.8 L143 113.3 L145 113.8 L147 114.2 L149 114.6 L151 114.9 L153 115.1 L155 115.2 L157 115.2 L159 115 L161 114.7 L163 114.2 L165 113.5 L167 112.6 L169 111.5 L171 110.3 L173 108.9 L175 107.4 L177 105.8 L179 104.2 L181 102.4 L183 100.7 L185 98.9 L187 97.1 L189 95.4 L191 93.7 L193 92 L195 90.5 L197 89.1 L199 87.8 L201 86.6 L203 85.6 L205 84.6 L207 83.9 L209 83.3 L211 82.8 L213 82.5 L215 82.3 L217 82.2 L219 82.2 L221 82.2 L223 82.4 L225 82.5 L227 82.7 L229 82.8 L231 83 L233 83.2 L235 83.5 L237 83.7 L239 84 L241 84.3 L243 84.6 L245 84.9 L247 85.3 L249 85.6 L251 86.1 L253 86.5 L255 86.9 L257 87.4 L259 87.9 L261 88.3 L263 88.8 L265 89.3 L267 89.8 L269 90.3 L271 90.7 L273 91.1 L275 91.5 L277 91.9 L279 92.2 L281 92.5 L283 92.7 L285 92.9 L287 93 L289 93.1 L291 93.1 L293 93 L295 92.9 L297 92.7 L299 92.5 L301 92.3 L303 91.9 L305 91.6 L307 91.2 L309 90.8 L311 90.3 L313 89.8 L315 89.3 L317 88.8 L319 88.2 L321 87.6 L323 87 L325 86.4 L327 85.8 L329 85.1 L331 84.5 L330 88.4 L329 92.1 L328 95.7 L327 99.2 L326 102.5 L325 105.6 L324 108.7 L323 111.6 L322 114.3 L321 117 L320 119.6 L319 122 L318 124.4 L317 126.6 L316 128.8 L315 130.9 L314 132.9 L313 134.8 L312 136.6 L311 138.4 L310 140.1 L309 141.7 L308 143.3 L307 144.8 L306 146.2 L305 147.6 L304 148.9 L303 150.2 L302 151.4 L301 152.6 L300 153.7 L299 154.8 L298 155.8 L297 156.8 L296 157.8 L295 158.7 L294 159.6 L293 160.5 L292 161.3 L291 162.1 L290 162.8 L287 165 L284 166.9 L281 168.6 L278 170.1 L275 171.5 L272 172.7 L269 173.8 L266 174.8 L263 175.8 L260 176.6 L257 177.4 L254 178.1 L251 178.8 L248 179.4 L245 180 L242 180.5 L239 181 L236 181.5 L233 182 L230 182.4 L227 182.8 L224 183.2 L221 183.6 L218 184 L215 184.3 L212 184.7 L209 185 L206 185.4 L203 185.7 L200 186 L197 186.3 L194 186.7 L191 187 L188 187.3 L185 187.6 L182 187.9 L179 188.2 L176 188.5 L173 188.8 L170 189.1 L167 189.3 L164 189.6 L161 189.9 L158 190.2 L155 190.5 L152 190.8 L149 191.1 L146 191.4 L143 191.7 L140 191.9 L137 192.2 L134 192.5 L131 192.8 L128 193.1 L125 193.4 L122 193.7 L119 194 L116 194.3 L113 194.6 L110 194.9 L107 195.2 L104 195.5 L101 195.8 L98 196.2 L95 196.5 L92 196.9 L89 197.3 L86 197.7 L83 198.1 L80 198.5 L77 199 L74 199.6 L71 200.2" stroke="#800080"/>
<path d="M71 96.8 L73 96.6 L75 96.4 L77 96.2 L79 96 L81 95.9 L83 95.7 L85 95.6 L87 95.4 L89 95.3 L91 95.2 L93 95.1 L95 95.1 L97 95 L99 95 L101 95.1 L103 95.1 L105 95.2 L107 95.3 L109 95.5 L111 95.7 L113 95.9 L115 96.2 L117 96.5 L119 96.8 L121 97.1 L123 97.5 L125 97.9 L127 98.3 L129 98.7 L131 99.2 L133 99.7 L135 100.2 L137 100.7 L139 101.2 L141 101.8 L143 102.3 L145 102.7 L147 103.1 L149 103.5 L151 103.8 L153 104 L155 104 L157 104 L159 103.9 L161 103.6 L163 103.1 L165 102.5 L167 101.7 L169 100.8 L171 99.7 L173 98.5 L175 97.3 L177 96.1 L179 94.8 L181 93.6 L183 92.4 L185 91.2 L187 90 L189 88.8 L191 87.5 L193 86.2 L195 84.7 L197 83.1 L199 81.5 L201 79.8 L203 78.2 L205 76.7 L207 75.3 L209 74.1 L211 73.2 L213 72.5 L215 72 L217 71.7 L219 71.5 L221 71.4 L223 71.4 L225 71.5 L227 71.6 L229 71.6 L231 71.7 L233 71.8 L235 71.9 L237 72 L239 72.2 L241 72.4 L243 72.6 L245 72.9 L247 73.2 L249 73.6 L251 74 L253 74.5 L255 74.9 L257 75.4 L259 75.9 L261 76.3 L263 76.8 L265 77.2 L267 77.6 L269 78.1 L271 78.4 L273 78.8 L275 79.2 L277 79.5 L279 79.8 L281 80.1 L283 80.4 L285 80.6 L287 80.8 L289 81 L291 81.1 L293 81.2 L295 81.3 L297 81.3 L299 81.3 L301 81.3 L303 81.2 L305 81 L307 80.8 L309 80.5 L311 80.2 L313 79.9 L315 79.5 L317 79.1 L319 78.6 L321 78.2 L323 77.7 L325 77.2 L327 76.7 L329 76.1 L331 75.6 L330 79.7 L329 83.7 L328 87.5 L327 91.1 L326 94.7 L325 98 L324 101.3 L323 104.4 L322 107.4 L321 110.2 L320 113 L319 115.6 L318 118.2 L317 120.6 L316 123 L315 125.2 L314 127.4 L313 129.5 L312 131.5 L311 133.4 L310 135.3 L309 137.1 L308 138.8 L307 140.4 L306 142 L305 143.5 L304 145 L303 146.4 L302 147.8 L301 149.1 L300 150.3 L299 151.6 L298 152.7 L297 153.8 L296 154.9 L295 156 L294 157 L293 157.9 L292 158.9 L291 159.8 L290 160.6 L287 163.1 L284 165.2 L281 167.2 L278 168.9 L275 170.5 L272 172 L269 173.3 L266 174.5 L263 175.6 L260 176.6 L257 177.5 L254 178.4 L251 179.2 L248 179.9 L245 180.6 L242 181.2 L239 181.8 L236 182.4 L233 182.9 L230 183.5 L227 184 L224 184.4 L221 184.9 L218 185.3 L215 185.8 L212 186.2 L209 186.6 L206 187 L203 187.3 L200 187.7 L197 188.1 L194 188.5 L191 188.8 L188 189.2 L185 189.5 L182 189.9 L179 190.2 L176 190.6 L173 190.9 L170 191.2 L167 191.6 L164 191.9 L161 192.3 L158 192.6 L155 192.9 L152 193.2 L149 193.6 L146 193.9 L143 194.2 L140 194.6 L137 194.9 L134 195.2 L131 195.5 L128 195.9 L125 196.2 L122 196.5 L119 196.9 L116 197.2 L113 197.5 L110 197.9 L107 198.2 L104 198.5 L101 198.9 L98 199.2 L95 199.6 L92 200 L89 200.3 L86 200.7 L83 201.1 L80 201.5 L77 202 L74 202.4 L71 202.9" stroke="#80ff00" stroke-width="2.7"/>
<path d="M71 90.4 L73 89.8 L75 89.2 L77 88.7 L79 88.1 L81 87.6 L83 87.1 L85 86.6 L87 86.2 L89 85.8 L91 85.5 L93 85.2 L95 84.9 L97 84.7 L99 84.6 L101 84.5 L103 84.4 L105 84.4 L107 84.4 L109 84.5 L111 84.6 L113 84.8 L115 84.9 L117 85.2 L119 85.4 L121 85.7 L123 86 L125 86.3 L127 86.6 L129 86.9 L131 87.3 L133 87.6 L135 88 L137 88.4 L139 88.7 L141 89.1 L143 89.4 L145 89.7 L147 90 L149 90.3 L151 90.5 L153 90.7 L155 90.9 L157 91 L159 91 L161 91 L163 90.9 L165 90.8 L167 90.6 L169 90.3 L171 89.8 L173 89.2 L175 88.5 L177 87.5 L179 86.3 L181 84.8 L183 83.2 L185 81.3 L187 79.3 L189 77.2 L191 75.1 L193 73 L195 71 L197 69.1 L199 67.4 L201 65.8 L203 64.4 L205 63.1 L207 62 L209 61.1 L211 60.4 L213 59.8 L215 59.4 L217 59.2 L219 59 L221 58.9 L223 58.8 L225 58.7 L227 58.6 L229 58.5 L231 58.3 L233 58.2 L235 58.1 L237 57.9 L239 57.8 L241 57.8 L243 57.8 L245 57.8 L247 57.9 L249 58 L251 58.2 L253 58.5 L255 58.7 L257 59 L259 59.4 L261 59.7 L263 60.1 L265 60.5 L267 60.9 L269 61.3 L271 61.7 L273 62.1 L275 62.5 L277 62.9 L279 63.3 L281 63.6 L283 64 L285 64.3 L287 64.6 L289 64.9 L291 65.2 L293 65.4 L295 65.6 L297 65.7 L299 65.9 L301 66 L303 66 L305 66 L307 66 L309 65.9 L311 65.7 L313 65.6 L315 65.4 L317 65.1 L319 64.9 L321 64.6 L323 64.3 L325 64 L327 63.7 L329 63.3 L331 63 L330 67.2 L329 71.3 L328 75.2 L327 79.1 L326 82.7 L325 86.3 L324 89.7 L323 93 L322 96.2 L321 99.3 L320 102.3 L319 105.2 L318 108 L317 110.7 L316 113.3 L315 115.8 L314 118.3 L313 120.6 L312 122.9 L311 125.1 L310 127.3 L309 129.3 L308 131.3 L307 133.2 L306 135.1 L305 136.9 L304 138.6 L303 140.3 L302 142 L301 143.5 L300 145.1 L299 146.6 L298 148 L297 149.4 L296 150.7 L295 152 L294 153.3 L293 154.5 L292 155.7 L291 156.8 L290 157.9 L287 161 L284 163.9 L281 166.5 L278 168.8 L275 171 L272 173 L269 174.8 L266 176.5 L263 178 L260 179.4 L257 180.7 L254 181.9 L251 183.1 L248 184.1 L245 185.1 L242 186 L239 186.9 L236 187.7 L233 188.5 L230 189.2 L227 189.9 L224 190.6 L221 191.2 L218 191.8 L215 192.4 L212 193 L209 193.5 L206 194 L203 194.6 L200 195.1 L197 195.5 L194 196 L191 196.5 L188 196.9 L185 197.4 L182 197.8 L179 198.2 L176 198.7 L173 199.1 L170 199.5 L167 199.9 L164 200.3 L161 200.7 L158 201.1 L155 201.5 L152 201.9 L149 202.3 L146 202.7 L143 203.1 L140 203.5 L137 203.9 L134 204.3 L131 204.7 L128 205 L125 205.4 L122 205.8 L119 206.2 L116 206.6 L113 207 L110 207.4 L107 207.8 L104 208.2 L101 208.6 L98 209 L95 209.4 L92 209.9 L89 210.3 L86 210.8 L83 211.2 L80 211.7 L77 212.2 L74 212.8 L71 213.4" stroke="#ff0080" stroke-width="2.8"/>
<path d="M71 83.6 L73 82.6 L75 81.6 L77 80.6 L79 79.7 L81 78.8 L83 77.9 L85 77.1 L87 76.3 L89 75.7 L91 75.1 L93 74.6 L95 74.1 L97 73.7 L99 73.4 L101 73.1 L103 72.9 L105 72.7 L107 72.6 L109 72.5 L111 72.4 L113 72.4 L115 72.4 L117 72.5 L119 72.6 L121 72.7 L123 72.9 L125 73.1 L127 73.3 L129 73.5 L131 73.8 L133 74.1 L135 74.4 L137 74.7 L139 75.1 L141 75.4 L143 75.8 L145 76.1 L147 76.4 L149 76.8 L151 77 L153 77.3 L155 77.5 L157 77.6 L159 77.7 L161 77.7 L163 77.6 L165 77.5 L167 77.3 L169 76.9 L171 76.5 L173 75.9 L175 75.2 L177 74.3 L179 73.3 L181 72.1 L183 70.6 L185 69.1 L187 67.4 L189 65.6 L191 63.7 L193 61.8 L195 59.9 L197 58 L199 56.1 L201 54.2 L203 52.4 L205 50.7 L207 49.1 L209 47.7 L211 46.4 L213 45.2 L215 44.2 L217 43.2 L219 42.4 L221 41.7 L223 41.1 L225 40.5 L227 40 L229 39.5 L231 39.1 L233 38.7 L235 38.3 L237 38 L239 37.8 L241 37.6 L243 37.4 L245 37.3 L247 37.2 L249 37.2 L251 37.2 L253 37.3 L255 37.4 L257 37.5 L259 37.6 L261 37.8 L263 38 L265 38.2 L267 38.4 L269 38.6 L271 38.9 L273 39.1 L275 39.4 L277 39.6 L279 39.9 L281 40.1 L283 40.4 L285 40.6 L287 40.8 L289 41 L291 41.3 L293 41.4 L295 41.6 L297 41.8 L299 42 L301 42.1 L303 42.2 L305 42.3 L307 42.4 L309 42.4 L311 42.5 L313 42.5 L315 42.5 L317 42.5 L319 42.5 L321 42.5 L323 42.5 L325 42.4 L327 42.4 L329 42.3 L331 42.3 L330 46.8 L329 51.1 L328 55.4 L327 59.5 L326 63.4 L325 67.3 L324 71 L323 74.7 L322 78.2 L321 81.6 L320 84.9 L319 88.1 L318 91.3 L317 94.3 L316 97.2 L315 100.1 L314 102.9 L313 105.6 L312 108.2 L311 110.7 L310 113.2 L309 115.6 L308 117.9 L307 120.1 L306 122.3 L305 124.5 L304 126.5 L303 128.5 L302 130.5 L301 132.4 L300 134.2 L299 136 L298 137.7 L297 139.4 L296 141.1 L295 142.7 L294 144.2 L293 145.7 L292 147.2 L291 148.6 L290 150 L287 153.9 L284 157.5 L281 160.8 L278 163.9 L275 166.7 L272 169.3 L269 171.7 L266 173.9 L263 176 L260 177.9 L257 179.7 L254 181.3 L251 182.9 L248 184.3 L245 185.7 L242 187 L239 188.1 L236 189.3 L233 190.3 L230 191.3 L227 192.3 L224 193.2 L221 194 L218 194.8 L215 195.6 L212 196.3 L209 197 L206 197.7 L203 198.4 L200 199 L197 199.6 L194 200.2 L191 200.8 L188 201.4 L185 201.9 L182 202.5 L179 203 L176 203.5 L173 204 L170 204.5 L167 205 L164 205.5 L161 206 L158 206.4 L155 206.9 L152 207.3 L149 207.8 L146 208.3 L143 208.7 L140 209.1 L137 209.6 L134 210 L131 210.5 L128 210.9 L125 211.3 L122 211.8 L119 212.2 L116 212.7 L113 213.1 L110 213.5 L107 214 L104 214.4 L101 214.9 L98 215.4 L95 215.9 L92 216.4 L89 216.9 L86 217.4 L83 218 L80 218.6 L77 219.3 L74 220 L71 220.8" stroke="#000000"/>
</g>
<!-- chart A axes -->
<g stroke="#000" fill="none">
<path d="M45 5 V224 H349" stroke-width="2"/>
<path d="M41.3 5.2H45 M41.3 58.1H45 M41.3 111.4H45 M41.3 164.6H45 M41.3 217.9H45" stroke-width="1.4"/>
<path d="M44.5 224V227.2 M115.7 224V227.2 M186.9 224V227.2 M258.1 224V227.2 M329.3 224V227.2" stroke-width="1.3"/>
</g>
<g class="tk" text-anchor="end">
<text x="37" y="8.2">300</text>
<text x="37" y="61.8">200</text>
<text x="37" y="114.6">100</text>
<text x="37" y="167.7">0</text>
<text x="37" y="221">-100</text>
</g>
<g class="tk" text-anchor="middle">
<text x="44.6" y="239.7">0.2</text>
<text x="115.9" y="239.7">0.4</text>
<text x="187" y="239.7">0.6</text>
<text x="258.2" y="239.7">0.8</text>
<text x="330" y="239.7">1.0</text>
</g>
<text x="55.3" y="26.5" style="font-size:21.8px">A</text>
<text transform="translate(13.2 117.8) rotate(-90) scale(0.87 1)" text-anchor="middle" style="font-size:15.5px" textLength="40" lengthAdjust="spacing"><tspan font-style="italic">i</tspan> / μA</text>
<text x="109" y="266" style="font-size:12.8px" textLength="174.5" lengthAdjust="spacing"><tspan font-style="italic">E</tspan> / V&#160; vs. Ag/AgCl(sat. KCl)</text>
<!-- arrow -->
<g stroke="#000" fill="none" stroke-width="1.6">
<ellipse cx="341.9" cy="157.4" rx="2.7" ry="2.6" stroke-width="2"/>
<path d="M341 161 V204 M334 182.5 L341 161 L347.7 182.5" stroke-width="1.8"/>
</g>
<text transform="translate(342.1 215.5) scale(0.85 1)" text-anchor="middle" style="font-size:15px">a</text>

<!-- chart B -->
<g stroke="#000" fill="none">
<path d="M57 271 V462 H323" stroke-width="2"/>
<path d="M53.5 288.6H57 M53.5 331.9H57 M53.5 375.5H57 M53.5 419H57 M53.5 462H57" stroke-width="1.3"/>
<path d="M92.6 462V465.2 M164.3 462V465.2 M236.5 462V465.2 M307.8 462V465.2" stroke-width="1.3"/>
<path d="M64.5 449.2 L306 291" stroke-width="1.3"/>
</g>
<g fill="#000">
<circle cx="64.5" cy="449.2" r="2.8"/>
<circle cx="114.1" cy="414.2" r="2.8"/>
<circle cx="143.2" cy="396.7" r="2.8"/>
<circle cx="163.8" cy="385.9" r="2.8"/>
<circle cx="180.2" cy="376" r="2.8"/>
<circle cx="193" cy="365.5" r="2.8"/>
<circle cx="213.8" cy="354.3" r="2.8"/>
<circle cx="222.1" cy="349.1" r="2.8"/>
<circle cx="229.9" cy="340.8" r="2.8"/>
<circle cx="243.1" cy="332.1" r="2.8"/>
<circle cx="258.7" cy="322.9" r="2.8"/>
<circle cx="267.8" cy="315.2" r="2.8"/>
<circle cx="279.7" cy="306.4" r="2.8"/>
<circle cx="292.6" cy="298.7" r="2.8"/>
<circle cx="306.3" cy="287.9" r="2.8"/>
</g>
<g class="tk" text-anchor="end" style="font-size:9px">
<text x="50" y="291.8">0.70</text>
<text x="50" y="335">0.65</text>
<text x="50" y="378.7">0.60</text>
<text x="50" y="422.2">0.55</text>
<text x="50" y="465.3">0.50</text>
</g>
<g class="tk" text-anchor="middle" style="font-size:9px">
<text x="92.8" y="477.3">2</text>
<text x="164.4" y="477.3">3</text>
<text x="236.6" y="477.3">4</text>
<text x="307.9" y="477.3">5</text>
</g>
<text x="67.5" y="308.9" style="font-size:21.8px">B</text>
<text transform="translate(19.2 366) rotate(-90)" text-anchor="middle" style="font-size:12.8px">Peak potential / V</text>
<text x="154" y="497" style="font-size:14px">ln <tspan style="font-family:'Liberation Serif',serif;font-style:italic;font-weight:normal">ν</tspan><tspan style="font-family:'Liberation Serif',serif"> / mV s</tspan><tspan style="font-family:'Liberation Serif',serif;font-size:10px" dy="-6">-1</tspan></text>
<text x="191" y="407" style="font-size:12.5px"><tspan font-style="italic">E</tspan><tspan dy="3">pa</tspan><tspan dy="-3"> = 0.054ln </tspan><tspan style="font-family:'Liberation Serif',serif;font-style:italic;font-weight:normal">ν</tspan> + 0.4245</text>
<text x="191.5" y="423.8" style="font-size:12.5px">R² = 0.9972</text>
</svg>
</body></html>
